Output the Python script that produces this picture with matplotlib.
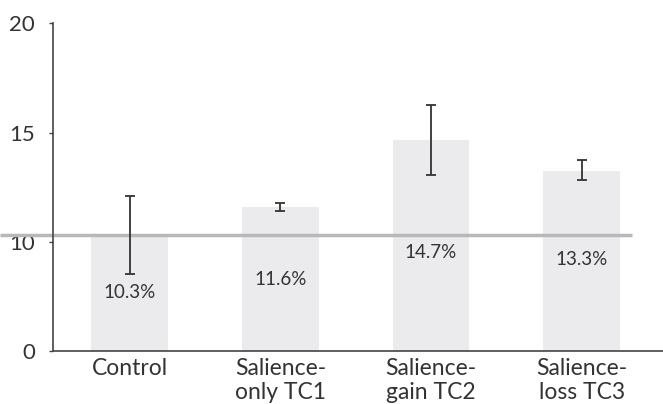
import numpy as np
import matplotlib
matplotlib.use('Agg')
import matplotlib.pyplot as plt


# Data
groups = ['Control', 'Salience-\nonly TC1', 'Salience-\ngain TC2', 'Salience-\nloss TC3']
values = [10.3, 11.6, 14.65, 13.25]
err_low = [7.0, 11.4, 13.03, 12.82]
err_high = [12.1, 11.76, 16.26, 13.72]
value_labels = ['10.3%', '11.6%', '14.7%', '13.3%']
label_y = [5.3, 6.5, 8.96, 8.34]
baseline = 10.3
yticks = [0, 10, 15, 20]


# piecewise axis: 0-10 takes the same room as 10-15 and 15-20
def fwd(y):
    y = np.asarray(y, dtype=float)
    return np.where(y < 10, y, 10 + (y - 10) * 2)


def inv(y):
    y = np.asarray(y, dtype=float)
    return np.where(y < 10, y, 10 + (y - 10) / 2)


plt.rcParams['font.family'] = ['Lato', 'DejaVu Sans']

fig = plt.figure(figsize=(6.63, 4.04), dpi=100)
ax = fig.add_axes([0.080, 0.132, 0.92, 0.810])
ax.set_yscale('function', functions=(fwd, inv))

x = np.arange(len(groups))
vals = np.array(values)
yerr = np.array([vals - np.array(err_low), np.array(err_high) - vals])

ax.bar(x, vals, width=0.51, color='#ebebed', zorder=1)
ax.errorbar(x, vals, yerr=yerr, fmt='none', ecolor='#333333',
            elinewidth=1.3, capsize=3.6, capthick=1.3, zorder=3)

ax.set_xlim(-0.508, 3.54)
ax.set_ylim(0, 20)

ax.plot([-0.86, 3.335], [baseline, baseline], color='#b8b8b8', lw=2.5,
        clip_on=False, zorder=2, solid_capstyle='butt')

for xi, lab, ly in zip(x, value_labels, label_y):
    ax.text(xi, ly, lab, ha='center', va='center', fontsize=13.5, color='#333333')

ax.set_yticks(yticks)
ax.set_yticklabels([str(t) for t in yticks])
ax.minorticks_off()
ax.set_xticks(x)
ax.set_xticklabels(groups, linespacing=1.22)
ax.tick_params(axis='y', length=3, width=1, color='#444444', pad=10,
               labelsize=16, labelcolor='#333333')
ax.tick_params(axis='x', length=0, pad=5, labelsize=16.5, labelcolor='#333333')

for s in ['top', 'right']:
    ax.spines[s].set_visible(False)
for s in ['left', 'bottom']:
    ax.spines[s].set_color('#444444')
    ax.spines[s].set_linewidth(1.2)

fig.savefig('out.png', dpi=100)
